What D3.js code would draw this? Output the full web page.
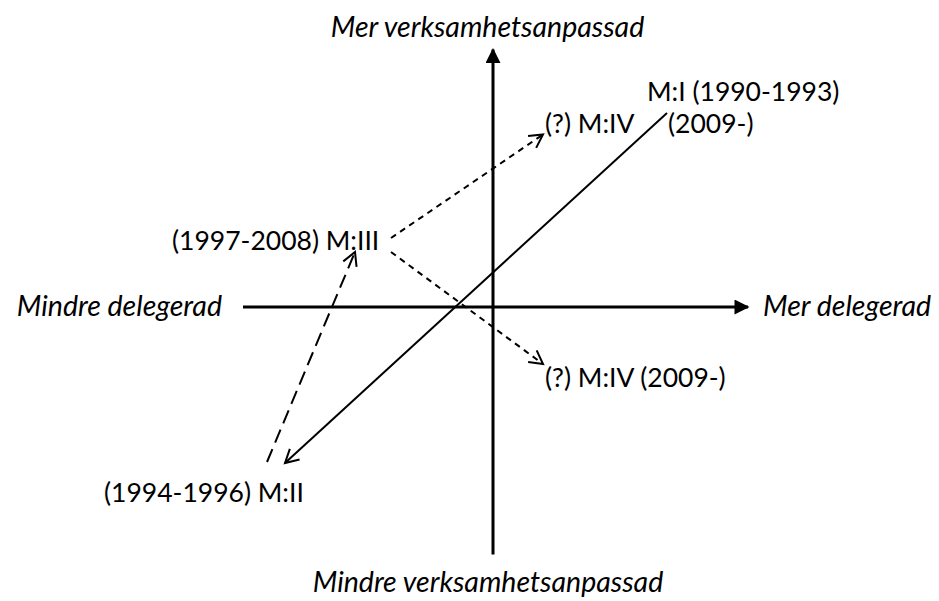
<!DOCTYPE html>
<html>
  <head>
    <meta charset="utf-8">
    <title>Verksamhetsanpassad / delegerad</title>
    <script src="https://d3js.org/d3.v7.min.js"></script>
    <style>
      body { margin: 0; background: #fff; }
      text { font-family: Lato, "Open Sans", sans-serif; font-size: 26.5px; fill: #000; }
      .axislabel { font-style: italic; font-size: 28.5px; }
    </style>
  </head>
  <body>
    <svg width="939" height="601"></svg>
    <script>
      // axis ends, in diagram units (centre = 0,0)
      var axisX = [-10, 10.2];
      var axisY = [-9.9, 10.3];

      // axis titles: text, x, y, anchor
      var axisTitles = [
        ["Mer verksamhetsanpassad", -0.22, 10.8, "middle"],
        ["Mindre verksamhetsanpassad", -0.2, -11.4, "middle"],
        ["Mindre delegerad", -10.84, -0.36, "end"],
        ["Mer delegerad", 10.8, -0.36, "start"]
      ];

      // arrows: from, to, dash style
      var arrowFrom = [[6.96, 7.76], [-9.04, -6.2], [-4.08, 2.76], [-4.08, 2.2]];
      var arrowTo = [[-8.32, -6.24], [-5.52, 2.2], [2.0, 6.9], [2.0, -2.28]];
      var arrowDash = [null, "14,7", "6,5", "6,5"];

      // period labels: text, x, y (baseline start)
      var labelText = ["M:I (1990-1993)", "(?) M:IV", "(2009-)", "(1997-2008) M:III", "(?) M:IV (2009-)", "(1994-1996) M:II"];
      var labelX = [6.16, 2.08, 7.0, -12.84, 2.08, -15.56];
      var labelY = [8.24, 6.96, 6.96, 2.28, -3.2, -7.8];

      var svg = d3.select("svg");
      var x = d3.scaleLinear().domain([-10, 10]).range([243, 743]);
      var y = d3.scaleLinear().domain([-10, 10]).range([557, 57]);

      // filled arrowhead for the axes
      svg.append("defs").append("marker")
        .attr("id", "tri")
        .attr("viewBox", "0 0 10 10")
        .attr("refX", 9).attr("refY", 5)
        .attr("markerWidth", 5.5).attr("markerHeight", 5)
        .attr("markerUnits", "strokeWidth")
        .attr("orient", "auto")
        .append("path").attr("d", "M0,0L10,5L0,10Z").attr("fill", "#000");

      // axes
      svg.append("line")
        .attr("x1", x(axisX[0])).attr("y1", y(0))
        .attr("x2", x(axisX[1])).attr("y2", y(0))
        .attr("stroke", "#000").attr("stroke-width", 3)
        .attr("marker-end", "url(#tri)");
      svg.append("line")
        .attr("x1", x(0)).attr("y1", y(axisY[0]))
        .attr("x2", x(0)).attr("y2", y(axisY[1]))
        .attr("stroke", "#000").attr("stroke-width", 3)
        .attr("marker-end", "url(#tri)");

      svg.selectAll(".axislabel")
        .data(axisTitles)
        .enter().append("text")
        .attr("class", "axislabel")
        .attr("x", function(d) { return x(d[1]); })
        .attr("y", function(d) { return y(d[2]); })
        .attr("text-anchor", function(d) { return d[3]; })
        .text(function(d) { return d[0]; });

      // arrows with open heads
      var arrows = arrowFrom.map(function(f, i) {
        return { f: f, t: arrowTo[i], dash: arrowDash[i] };
      });
      var g = svg.selectAll(".arrow").data(arrows).enter().append("g").attr("class", "arrow");

      g.append("line")
        .attr("x1", function(d) { return x(d.f[0]); })
        .attr("y1", function(d) { return y(d.f[1]); })
        .attr("x2", function(d) { return x(d.t[0]); })
        .attr("y2", function(d) { return y(d.t[1]); })
        .attr("stroke", "#000").attr("stroke-width", 2)
        .attr("stroke-dasharray", function(d) { return d.dash; });

      g.append("path")
        .attr("fill", "none").attr("stroke", "#000").attr("stroke-width", 2)
        .attr("d", function(d) {
          var x1 = x(d.f[0]), y1 = y(d.f[1]), x2 = x(d.t[0]), y2 = y(d.t[1]);
          var a = Math.atan2(y2 - y1, x2 - x1), len = 15, sp = 0.5;
          return "M" + (x2 - len * Math.cos(a - sp)) + "," + (y2 - len * Math.sin(a - sp)) +
            "L" + x2 + "," + y2 +
            "L" + (x2 - len * Math.cos(a + sp)) + "," + (y2 - len * Math.sin(a + sp));
        });

      svg.selectAll(".label")
        .data(labelText)
        .enter().append("text")
        .attr("class", "label")
        .attr("x", function(d, i) { return x(labelX[i]); })
        .attr("y", function(d, i) { return y(labelY[i]); })
        .text(function(d) { return d; });
    </script>
  </body>
</html>
